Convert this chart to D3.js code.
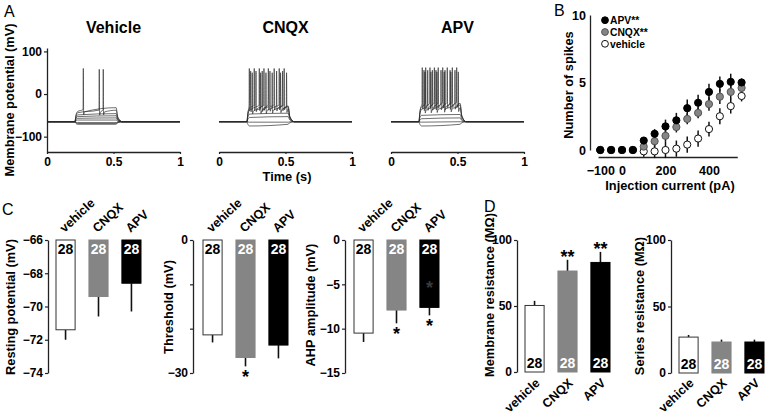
<!DOCTYPE html>
<html><head><meta charset="utf-8">
<script src="https://cdn.jsdelivr.net/npm/d3@7"></script>
<style>
body{margin:0;background:#fff}
svg{display:block}
</style></head><body>
<svg id="c" width="765" height="414"></svg>
<script>
// ---------------- DATA ----------------
// Panel A: current-clamp traces (mV), step from stepOn to stepOff (s)
const traceBaseline = -65;
const stepTimes = [0.21, 0.52];
const panelATitles = ["Vehicle", "CNQX", "APV"];
const timeTicks = [0, 0.5, 1];
const voltTicks = [100, 0, -100];

const vehicleStart = [-71, -69, -67, -61, -57, -53, -49, -44, -41];
const vehicleEnd   = [-71, -69, -67, -61, -56, -51, -46, -38, -32];
const vehicleSpikes = [[], [], [], [], [], [], [], [0.393, 0.423], [0.273]];
const vehiclePeaks  = [0, 0, 0, 0, 0, 0, 0, 58, 60];

const cnqxStart = [-75, -66, -55, -47, -38, -33, -30];
const cnqxEnd   = [-71, -66, -53, -45, -34, -30, -28];
const cnqxSpikes = [[], [], [], [],
  [0.25, 0.313, 0.353, 0.40, 0.463, 0.508],
  [0.238, 0.278, 0.325, 0.383, 0.433, 0.478],
  [0.228, 0.265, 0.303, 0.338, 0.371, 0.415, 0.453, 0.49]];
const cnqxPeaks = [0, 0, 0, 0, 50, 54, 60];

const apvStart = [-75, -66, -58, -50, -36, -30, -26];
const apvEnd   = [-71, -65, -56, -48, -32, -26, -22];
const apvSpikes = [[], [], [], [],
  [0.255, 0.30, 0.345, 0.40, 0.45, 0.506],
  [0.248, 0.276, 0.311, 0.338, 0.376, 0.406, 0.444, 0.481],
  [0.235, 0.261, 0.293, 0.326, 0.355, 0.389, 0.423, 0.461, 0.494]];
const apvPeaks = [0, 0, 0, 0, 52, 56, 62];

// Panel B: number of spikes vs injection current
const currents = [-100, -50, 0, 50, 100, 150, 200, 250, 300, 350, 400, 450, 500, 550];
const spikesAPV     = [0, 0, 0, 0, 0.7, 1.2, 1.75, 2.2, 3.1, 3.5, 4.3, 4.9, 5.05, 5.0];
const spikesAPVErr  = [0, 0, 0, 0, 0.25, 0.35, 0.5, 0.55, 0.65, 0.6, 0.6, 0.55, 0.6, 0.3];
const spikesCNQX    = [0, 0, 0, 0, 0.25, 0.65, 1.05, 1.7, 2.3, 2.75, 3.4, 3.95, 4.3, 4.6];
const spikesCNQXErr = [0, 0, 0, 0, 0.3, 0.4, 0.45, 0.4, 0.4, 0.4, 0.5, 0.55, 0.55, 0.35];
const spikesVeh     = [0, 0, 0, 0, -0.1, -0.1, 0, 0.1, 0.4, 0.85, 1.55, 2.5, 3.25, 4.0];
const spikesVehErr  = [0, 0, 0, 0, 0.4, 0.5, 0.6, 0.6, 0.6, 0.6, 0.55, 0.6, 0.55, 0.4];
const currentTicks = [-100, 0, 200, 400];
const spikeTicks = [0, 5, 10];
const legendLabels = ["APV", "CNQX", "vehicle"];
const legendStars = ["**", "**", ""];

// Panels C and D: bar charts
const groups = ["vehicle", "CNQX", "APV"];
const nCells = [28, 28, 28];
const restingMean = [-71.4, -69.4, -68.6];
const restingErr  = [0.6, 1.2, 1.7];
const restingTicks = [-66, -68, -70, -72, -74];
const thresholdMean = [-21.4, -26.5, -23.7];
const thresholdErr  = [1.7, 2.0, 3.0];
const thresholdTicks = [0, -10, -20, -30];
const thresholdStars = ["", "*", ""];
const ahpMean = [-10.5, -7.9, -7.6];
const ahpErr  = [1.0, 1.5, 0.9];
const ahpTicks = [0, -5, -10, -15];
const ahpStars = ["", "*", "*"];
const membraneMean = [50.4, 76.5, 83];
const membraneErr  = [3.5, 8.5, 8];
const membraneStars = ["", "**", "**"];
const seriesMean = [27, 23.3, 23.3];
const seriesErr  = [1.6, 1.8, 1.8];
const resistTicks = [0, 50, 100];

// ---------------- DRAWING ----------------
const FONT = '"Liberation Sans", Arial, Helvetica, sans-serif';
const NARROW = '"Liberation Sans Narrow", "Liberation Sans", Arial, sans-serif';
const GRAY = "#858585";
const AX = "#222";
const TITLE = 12.8;
const barFill = ["#ffffff", GRAY, "#000000"];
const svg = d3.select("#c");

function styleAxis(g, fs) {
  g.select(".domain").attr("stroke", AX).attr("stroke-width", 1.3);
  g.selectAll(".tick line").attr("stroke", AX).attr("stroke-width", 1.2);
  g.selectAll(".tick text").attr("font-family", FONT).attr("font-weight", "bold")
    .attr("font-size", fs || 12).attr("fill", "#000");
}
function label(x, y, txt, opt) {
  opt = opt || {};
  const t = svg.append("text").attr("x", x).attr("y", y).text(txt)
    .attr("font-family", opt.family || FONT)
    .attr("font-weight", opt.weight || "bold")
    .attr("font-size", opt.size || 12)
    .attr("fill", opt.fill || "#000")
    .attr("text-anchor", opt.anchor || "middle");
  if (opt.rotate) t.attr("transform", `rotate(${opt.rotate},${x},${y})`);
  return t;
}
const fmtMinus = d => d < 0 ? "\u2212" + Math.abs(d) : String(d);

// Panel letters
label(4, 17, "A", {weight: "normal", size: 16, anchor: "start"});
label(554, 16, "B", {weight: "normal", size: 16, anchor: "start"});
label(2, 215, "C", {weight: "normal", size: 16, anchor: "start"});
label(484, 212, "D", {weight: "normal", size: 16, anchor: "start"});

// ---- Panel A ----
const yV = d3.scaleLinear().domain([-136, 108]).range([152, 48]);
const panelAX = [47, 219, 391];
const traceSets = [
  [vehicleStart, vehicleEnd, vehicleSpikes, vehiclePeaks],
  [cnqxStart, cnqxEnd, cnqxSpikes, cnqxPeaks],
  [apvStart, apvEnd, apvSpikes, apvPeaks]
];
function tracePoints(v0, v1, spikes, peak) {
  const on = stepTimes[0], off = stepTimes[1], b = traceBaseline;
  const lvl = t => v0 + (v1 - v0) * Math.max(0, t - on - 0.02) / (off - on - 0.02);
  const pts = [[0, b], [on, b], [on + 0.007, b + (v0 - b) * 0.6], [on + 0.02, v0]];
  spikes.forEach(t => {
    const L = lvl(t);
    pts.push([t - 0.002, L + 3], [t, peak], [t + 0.0025, L - 9], [t + 0.009, L - 2]);
  });
  pts.push([off, v1], [off + 0.012, b + (v1 - b) * 0.35], [off + 0.045, b], [1, b]);
  pts.sort((a, c) => a[0] - c[0]);
  return pts;
}
panelATitles.forEach((title, k) => {
  const x = d3.scaleLinear().domain([0, 1]).range([panelAX[k], panelAX[k] + 133]);
  const line = d3.line().x(d => x(d[0])).y(d => yV(d[1])).curve(d3.curveMonotoneX);
  const [s0, s1, sp, pk] = traceSets[k];
  const g = svg.append("g");
  s0.forEach((v, i) => {
    g.append("path").attr("d", line(tracePoints(v, s1[i], sp[i], pk[i])))
      .attr("fill", "none").attr("stroke", "#2a2a2a").attr("stroke-width", 0.8)
      .attr("stroke-opacity", 0.85);
  });
  const xa = svg.append("g").attr("transform", "translate(0,152)")
    .call(d3.axisBottom(x).tickValues(timeTicks).tickSize(2).tickSizeOuter(0).tickPadding(3)
      .tickFormat(d => d === 0.5 ? "0.5" : String(d)));
  styleAxis(xa);
  label(x(0.5), 33, title, {size: 16});
  if (k === 0) {
    const ya = svg.append("g").attr("transform", `translate(${panelAX[0]},0)`)
      .call(d3.axisLeft(yV).tickValues(voltTicks).tickSize(3).tickSizeOuter(0).tickPadding(2).tickFormat(fmtMinus));
    styleAxis(ya);
  }
});
label(14, 100, "Membrane potential (mV)", {rotate: -90, size: TITLE});
label(287, 181, "Time (s)", {size: TITLE});

// ---- Panel B ----
const xB = d3.scaleLinear().domain([-100, 550]).range([600.25, 741.6]);
const yB = d3.scaleLinear().domain([0, 10]).range([150, 15]);
const xBaxis = d3.scaleLinear().domain([-110, 530]).range([xB(-110), xB(530)]);
const xaB = svg.append("g").attr("transform", "translate(0,157)")
  .call(d3.axisBottom(xBaxis).tickValues(currentTicks).tickSize(0).tickSizeOuter(0).tickPadding(9).tickFormat(fmtMinus));
styleAxis(xaB, 12.5);
const yaB = svg.append("g").attr("transform", "translate(590,0)")
  .call(d3.axisLeft(yB).tickValues(spikeTicks).tickSize(0).tickSizeOuter(0).tickPadding(4));
styleAxis(yaB, 12.5);
label(573, 85, "Number of spikes", {rotate: -90, size: TITLE});
label(670, 190, "Injection current (pA)", {size: TITLE});

const seriesB = [
  {vals: spikesVeh, err: spikesVehErr, fill: "#fff", stroke: "#111"},
  {vals: spikesCNQX, err: spikesCNQXErr, fill: GRAY, stroke: "#555"},
  {vals: spikesAPV, err: spikesAPVErr, fill: "#000", stroke: "#000"}
];
seriesB.forEach(s => {
  const g = svg.append("g");
  g.selectAll("line").data(currents.map((c, i) => ({c, v: s.vals[i], e: s.err[i]})).filter(d => d.e > 0))
    .join("line")
    .attr("x1", d => xB(d.c)).attr("x2", d => xB(d.c))
    .attr("y1", d => yB(d.v - d.e)).attr("y2", d => yB(d.v + d.e))
    .attr("stroke", "#111").attr("stroke-width", 1.5);
});
seriesB.forEach(s => {
  svg.append("g").selectAll("circle").data(currents.map((c, i) => ({c, v: s.vals[i]})))
    .join("circle")
    .attr("cx", d => xB(d.c)).attr("cy", d => yB(d.v)).attr("r", 3.6)
    .attr("fill", s.fill).attr("stroke", s.stroke).attr("stroke-width", 1);
});
// legend
const legFill = ["#000", GRAY, "#fff"], legStroke = ["#000", "#555", "#111"];
legendLabels.forEach((name, i) => {
  const y = 20.2 + i * 11.8;
  svg.append("circle").attr("cx", 605).attr("cy", y).attr("r", 3.4)
    .attr("fill", legFill[i]).attr("stroke", legStroke[i]).attr("stroke-width", 1);
  const t = label(610, y + 3.8, name, {anchor: "start", size: 10.3});
  if (legendStars[i]) t.append("tspan").attr("font-size", 10.3).text(legendStars[i]);
});

// ---- Bar charts ----
function barChart(o) {
  const y = d3.scaleLinear().domain(o.domain).range([240, o.bottom || 373]);
  const x = d3.scaleBand().domain(groups).range([o.x0, o.x0 + 85]).paddingInner(0.42).paddingOuter(0);
  const hang = o.hang;
  const ya = svg.append("g").attr("transform", `translate(${o.axisX},0)`)
    .call(d3.axisLeft(y).tickValues(o.ticks).tickSize(3).tickSizeOuter(0).tickPadding(2)
      .tickFormat(d => (o.shown && !o.shown.includes(d)) ? "" : fmtMinus(d)));
  styleAxis(ya, 12);
  const base = o.domain[hang ? 0 : 1];
  groups.forEach((gname, i) => {
    const v = o.mean[i], e = o.err[i];
    const bx = x(gname), bw = x.bandwidth(), cx = bx + bw / 2;
    const yEnd = y(hang ? v - e : v + e);
    svg.append("line").attr("x1", cx).attr("x2", cx).attr("y1", y(v)).attr("y2", yEnd)
      .attr("stroke", "#111").attr("stroke-width", 1.6);
    const top = Math.min(y(base), y(v)), h = Math.abs(y(v) - y(base));
    svg.append("rect").attr("x", bx).attr("y", top).attr("width", bw).attr("height", h)
      .attr("fill", barFill[i]).attr("stroke", i === 0 ? "#333" : barFill[i]).attr("stroke-width", 1);
    const ny = hang ? y(base) + 14 : y(base) - 4;
    label(cx, ny, String(nCells[i]), {family: NARROW, size: 14, fill: i === 0 ? "#000" : "#fff"});
    if (o.stars && o.stars[i]) {
      const sy = hang ? yEnd + 17 : yEnd + 3;
      label(cx, sy, o.stars[i], {size: 18});
    }
    if (hang) label(cx - 1, 233, gname, {anchor: "start", rotate: -43, size: 12.5});
    else label(cx + 6, 384, gname, {anchor: "end", rotate: -43, size: 12.5});
  });
  if (o.title) label(o.title[0], o.title[1], o.title[2], {rotate: -90, size: TITLE});
  return {x, y};
}
barChart({axisX: 48, x0: 56, domain: [-66, -74], ticks: restingTicks, mean: restingMean, err: restingErr,
  hang: true, title: [15, 307, "Resting potential (mV)"]});
barChart({axisX: 193, x0: 203, domain: [0, -30], ticks: thresholdTicks, shown: [0, -30],
  mean: thresholdMean, err: thresholdErr, hang: true, stars: thresholdStars, title: [173, 307, "Threshold (mV)"]});
const ahp = barChart({axisX: 345, x0: 354, domain: [0, -15], ticks: ahpTicks, mean: ahpMean, err: ahpErr,
  hang: true, stars: ahpStars, title: [315, 305, "AHP amplitude (mV)"]});
// faint artefact star inside the APV AHP bar
label(ahp.x("APV") + ahp.x.bandwidth() / 2, ahp.y(-5) + 10, "*", {size: 18, fill: "#3a3a3a"});
barChart({axisX: 517, x0: 525, domain: [100, 0], bottom: 372, ticks: resistTicks, mean: membraneMean, err: membraneErr,
  hang: false, stars: membraneStars, title: [494, 295, "Membrane resistance (M\u03A9)"]});
barChart({axisX: 671, x0: 679, domain: [100, 0], ticks: resistTicks, mean: seriesMean, err: seriesErr,
  hang: false, title: [644, 306, "Series resistance (M\u03A9)"]});
</script>
</body></html>
